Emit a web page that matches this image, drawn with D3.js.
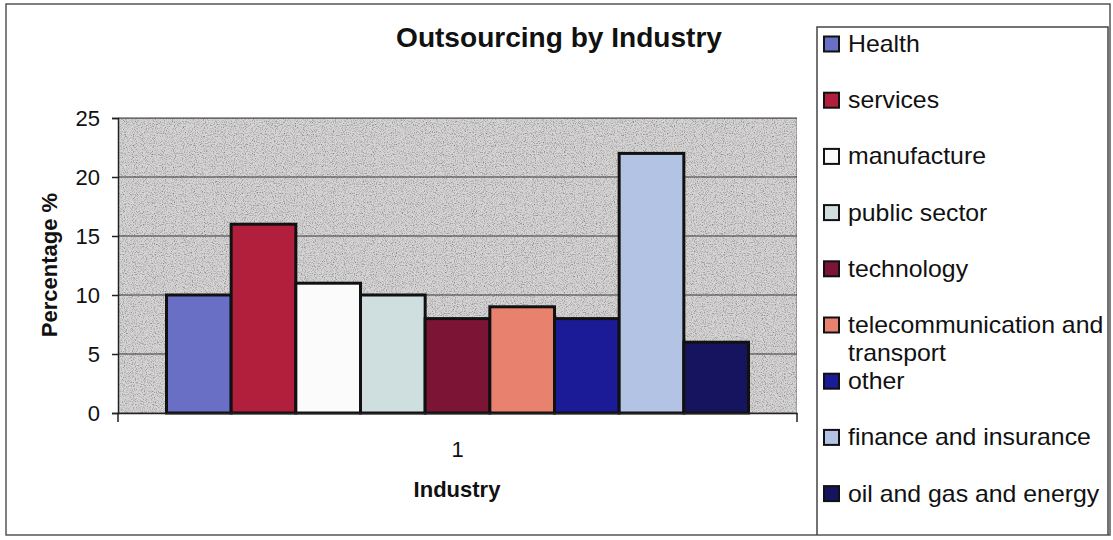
<!DOCTYPE html>
<html>
<head>
<meta charset="utf-8">
<script src="https://cdn.jsdelivr.net/npm/d3@7"></script>
<style>
  body { margin: 0; background: #fff; }
  svg { display: block; font-family: "Liberation Sans", Arial, sans-serif; }
</style>
</head>
<body>
<div id="chart"></div>
<script>
const categories = ['1']
const seriesNames = ['Health', 'services', 'manufacture', 'public sector', 'technology',
    'telecommunication and transport', 'other', 'finance and insurance', 'oil and gas and energy']
const seriesValues = [10, 16, 11, 10, 8, 9, 8, 22, 6]
const seriesColors = ['#6a6fc6', '#b21f3d', '#fbfbfb', '#cfdfdf', '#7c1535',
    '#e8826f', '#1b1b98', '#b3c3e3', '#17145f']
const yTicks = [0, 5, 10, 15, 20, 25]

const chart = {
    width: 1113,
    height: 540,
    plot: { left: 118, right: 797, top: 118, bottom: 413 },
    draw(body) {
        const svg = d3.select(body).append('svg')
            .attr('width', this.width)
            .attr('height', this.height)

        // speckle to mimic the scanned background
        const defs = svg.append('defs')
        const f = defs.append('filter').attr('id', 'grain')
            .attr('x', 0).attr('y', 0).attr('width', 1).attr('height', 1)
        f.append('feTurbulence').attr('type', 'fractalNoise').attr('baseFrequency', 0.9)
            .attr('numOctaves', 2).attr('seed', 3).attr('result', 'n')
        f.append('feColorMatrix').attr('in', 'n').attr('type', 'matrix')
            .attr('values', '0 0 0 0 0  0 0 0 0 0  0 0 0 0 0  0 0 0 -1.6 0.88').attr('result', 'a')
        f.append('feComposite').attr('in', 'a').attr('in2', 'SourceGraphic').attr('operator', 'in').attr('result', 'b')
        f.append('feMerge').call(m => {
            m.append('feMergeNode').attr('in', 'SourceGraphic')
            m.append('feMergeNode').attr('in', 'b')
        })

        // outer frame
        svg.append('path')
            .attr('d', 'M6,4 H1110 V535 H6 Z')
            .attr('fill', 'none').attr('stroke', '#555').attr('stroke-width', 1.5)

        const p = this.plot
        const x0 = d3.scaleBand().domain(categories).range([p.left, p.right])
        const x1 = d3.scaleBand().domain(seriesNames).range([0, x0.bandwidth()]).paddingOuter(0.75)
        const y = d3.scaleLinear().domain([0, 25]).range([p.bottom, p.top])

        svg.append('rect')
            .attr('x', p.left).attr('y', p.top)
            .attr('width', p.right - p.left).attr('height', p.bottom - p.top)
            .attr('fill', '#d6d4d4')
            .attr('stroke', '#777').attr('stroke-width', 1)
            .attr('filter', 'url(#grain)')

        svg.append('g').selectAll('line').data(yTicks.slice(1)).enter().append('line')
            .attr('x1', p.left).attr('x2', p.right)
            .attr('y1', d => y(d)).attr('y2', d => y(d))
            .attr('stroke', '#3a3a3a').attr('stroke-width', 1.2)

        svg.append('g').selectAll('rect')
            .data(seriesNames.map((s, i) => ({ s, v: seriesValues[i], c: seriesColors[i] })))
            .enter().append('rect')
            .attr('x', d => x0('1') + x1(d.s))
            .attr('y', d => y(d.v))
            .attr('width', x1.bandwidth())
            .attr('height', d => y(0) - y(d.v))
            .attr('fill', d => d.c)
            .attr('stroke', '#111').attr('stroke-width', 3)

        const yAxis = svg.append('g')
            .attr('transform', `translate(${p.left},0)`)
            .call(d3.axisLeft(y).tickValues(yTicks).tickSize(6).tickPadding(12))
        yAxis.select('.domain').attr('stroke', '#222').attr('stroke-width', 1.5)
        yAxis.selectAll('line').attr('stroke', '#222').attr('stroke-width', 1.5)
        yAxis.selectAll('text').attr('font-size', 22).attr('fill', '#111')
            .attr('font-family', '"Liberation Sans", Arial, sans-serif')

        const xAxis = svg.append('g')
            .attr('transform', `translate(0,${p.bottom})`)
            .call(d3.axisBottom(x0).tickSize(0).tickPadding(28))
        xAxis.select('.domain').attr('stroke', '#222').attr('stroke-width', 1.5)
        xAxis.selectAll('text').attr('font-size', 22).attr('fill', '#111')
            .attr('font-family', '"Liberation Sans", Arial, sans-serif')
        svg.append('g').selectAll('line').data(x0.range()).enter().append('line')
            .attr('x1', d => d).attr('x2', d => d)
            .attr('y1', p.bottom).attr('y2', p.bottom + 9)
            .attr('stroke', '#222').attr('stroke-width', 1.5)

        svg.append('text')
            .attr('transform', 'translate(559,47) scale(1.04,1)')
            .attr('text-anchor', 'middle')
            .attr('font-size', 27).attr('font-weight', 'bold').attr('fill', '#111')
            .text('Outsourcing by Industry')

        svg.append('text')
            .attr('transform', 'translate(57,265) rotate(-90)')
            .attr('text-anchor', 'middle')
            .attr('font-size', 22).attr('font-weight', 'bold').attr('fill', '#111')
            .text('Percentage %')

        svg.append('text')
            .attr('x', 457).attr('y', 497)
            .attr('text-anchor', 'middle')
            .attr('font-size', 22).attr('font-weight', 'bold').attr('fill', '#111')
            .text('Industry')

        this.drawLegend(svg)
    },
    drawLegend(svg) {
        svg.append('path')
            .attr('d', 'M817,535 V27 H1108 V535')
            .attr('fill', 'none').attr('stroke', '#444').attr('stroke-width', 1.5)

        const items = svg.append('g').selectAll('g')
            .data(seriesNames.map((s, i) => ({ s, c: seriesColors[i], i })))
            .enter().append('g')
            .attr('transform', d => `translate(824,${44 + d.i * 56.2})`)

        items.append('rect')
            .attr('x', 0).attr('y', -7.5).attr('width', 15).attr('height', 15)
            .attr('fill', d => d.c).attr('stroke', '#111').attr('stroke-width', 2)

        items.append('text')
            .attr('transform', 'translate(24,8) scale(1.08,1)')
            .attr('font-size', 23).attr('fill', '#111')
            .each(function (d) {
                const t = d3.select(this)
                const lines = d.s === 'telecommunication and transport'
                    ? ['telecommunication and', 'transport'] : [d.s]
                lines.forEach((l, k) => t.append('tspan').attr('x', 0).attr('dy', k ? 28 : 0).text(l))
            })
    }
}

chart.draw(document.getElementById('chart'))
</script>
</body>
</html>
